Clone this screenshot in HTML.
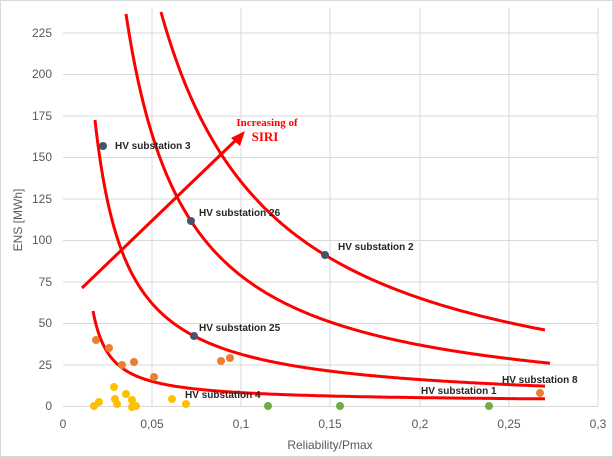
<!DOCTYPE html><html><head><style>body{margin:0;background:#fff}svg{display:block}text{font-family:"Liberation Sans",sans-serif}</style></head><body>
<svg id="s" width="613" height="457" viewBox="0 0 613 457" xmlns="http://www.w3.org/2000/svg">
<rect x="0.5" y="0.5" width="612" height="456" fill="#fff" stroke="#d9d9d9"/>
<g stroke="#d9d9d9" stroke-width="1">
<line x1="63" y1="33" x2="598" y2="33"/><line x1="63" y1="74.5" x2="598" y2="74.5"/><line x1="63" y1="116" x2="598" y2="116"/><line x1="63" y1="157.5" x2="598" y2="157.5"/><line x1="63" y1="199" x2="598" y2="199"/><line x1="63" y1="240.5" x2="598" y2="240.5"/><line x1="63" y1="282" x2="598" y2="282"/><line x1="63" y1="323.5" x2="598" y2="323.5"/><line x1="63" y1="365" x2="598" y2="365"/>
<line x1="152" y1="8" x2="152" y2="406"/><line x1="241" y1="8" x2="241" y2="406"/><line x1="330" y1="8" x2="330" y2="406"/><line x1="420" y1="8" x2="420" y2="406"/><line x1="509" y1="8" x2="509" y2="406"/><line x1="598" y1="8" x2="598" y2="406"/>
<line x1="63" y1="406.5" x2="598" y2="406.5"/>
</g>
<g font-size="12" fill="#595959" text-anchor="end">
<text x="52" y="37">225</text><text x="52" y="78">200</text><text x="52" y="120">175</text><text x="52" y="161">150</text><text x="52" y="203">125</text><text x="52" y="244">100</text><text x="52" y="286">75</text><text x="52" y="327">50</text><text x="52" y="369">25</text><text x="52" y="410">0</text>
</g>
<g font-size="12" fill="#595959" text-anchor="middle">
<text x="63" y="428">0</text><text x="152" y="428">0,05</text><text x="241" y="428">0,1</text><text x="330" y="428">0,15</text><text x="420" y="428">0,2</text><text x="509" y="428">0,25</text><text x="598" y="428">0,3</text>
<text x="330" y="449">Reliability/Pmax</text>
<text transform="translate(22,220) rotate(-90)">ENS [MWh]</text>
</g>
<g id="curves" fill="none" stroke="#ff0000" stroke-width="3" stroke-linejoin="round">
<polyline points="82,288 237,139"/>
</g>
<polygon points="245,131 231,138 240,146" fill="#ff0000"/>
<g font-weight="bold" fill="#ff0000" font-size="11" text-anchor="middle">
<text x="267" y="126" style="font-family:'Liberation Serif',serif">Increasing of</text><text x="265" y="141" style="font-family:'Liberation Serif',serif;font-size:13px">SIRI</text>
</g>
<g fill="#44546a"><circle cx="103" cy="146" r="4"/><circle cx="191" cy="221" r="4"/><circle cx="325" cy="255" r="4"/><circle cx="194" cy="336" r="4"/></g>
<g fill="#ed7d31"><circle cx="96" cy="340" r="4"/><circle cx="109" cy="348" r="4"/><circle cx="122" cy="365" r="4"/><circle cx="134" cy="362" r="4"/><circle cx="154" cy="377" r="4"/><circle cx="221" cy="361" r="4"/><circle cx="230" cy="358" r="4"/><circle cx="540" cy="393" r="4"/></g>
<g fill="#ffc000"><circle cx="94" cy="406" r="4"/><circle cx="99" cy="402" r="4"/><circle cx="114" cy="387" r="4"/><circle cx="115" cy="399" r="4"/><circle cx="117" cy="404" r="4"/><circle cx="126" cy="394" r="4"/><circle cx="132" cy="400" r="4"/><circle cx="136" cy="406" r="4"/><circle cx="172" cy="399" r="4"/><circle cx="186" cy="404" r="4"/><circle cx="132" cy="407" r="4"/></g>
<g fill="#70ad47"><circle cx="268" cy="406" r="4"/><circle cx="340" cy="406" r="4"/><circle cx="489" cy="406" r="4"/></g>
<g font-size="10" font-weight="bold" fill="#262626">
<text x="115" y="149">HV substation 3</text><text x="199" y="216">HV substation 26</text><text x="338" y="250">HV substation 2</text><text x="199" y="331">HV substation 25</text><text x="185" y="398">HV substation 4</text><text x="421" y="394">HV substation 1</text><text x="502" y="383">HV substation 8</text>
</g>
</svg>
<script>
(function(){
var C=[[[93,311],[125,370],[545,399]],[[95,120],[194,336],[545,386]],[[126,14],[191,221],[550,363]],[[161,12],[325,255],[545,330]]];
var g=document.getElementById('curves');
C.forEach(function(p){
 var x1=p[0][0],y1=p[0][1],x2=p[1][0],y2=p[1][1],x3=p[2][0],y3=p[2][1],best=1e9,B=0,A=0,Cc=0;
 for(var b=x1-600;b<x1-0.5;b+=0.25){var a=(y1-y2)/(1/(x1-b)-1/(x2-b));var c=y1-a/(x1-b);var e=Math.abs(a/(x3-b)+c-y3);if(e<best){best=e;B=b;A=a;Cc=c;}}
 var s='';for(var x=x1;x<=x3;x+=1){s+=x+','+(A/(x-B)+Cc).toFixed(1)+' ';}
 var pl=document.createElementNS('http://www.w3.org/2000/svg','polyline');pl.setAttribute('points',s);g.appendChild(pl);
});
})();
</script>
</body></html>
